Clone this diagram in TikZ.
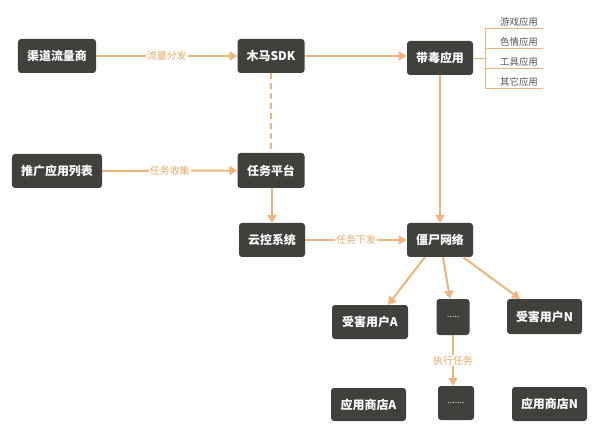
\documentclass[tikz,border=0pt]{standalone}
\usepackage{fontspec}
\setmainfont{Noto Sans CJK SC}
\usetikzlibrary{arrows.meta}
\definecolor{boxc}{HTML}{3E413C}
\definecolor{linec}{HTML}{F0B37A}
\definecolor{lblc}{HTML}{EDA864}
\definecolor{txtg}{HTML}{555555}
\tikzset{
  box/.style={draw=none, fill=boxc, rounded corners=3bp, text=white, font=\fontsize{12}{13}\selectfont\bfseries, inner sep=0pt, anchor=center},
  dots/.style={box, font=\fontsize{9}{10}\selectfont, text=white!85!boxc},
  conn/.style={draw=linec, line width=2bp, -{Triangle[length=8bp,width=9bp]}},
  dconn/.style={draw=linec, line width=2bp, dash pattern=on 6bp off 4bp},
  lbl/.style={fill=white, text=lblc, font=\fontsize{10}{11}\selectfont, inner sep=1pt},
  thin/.style={draw=linec, line width=1bp},
  cat/.style={text=txtg, font=\fontsize{9.5}{10}\selectfont, inner sep=0pt, anchor=south}
}
\begin{document}
\begin{tikzpicture}[x=1bp,y=-1bp]
\useasboundingbox[fill=white] (0,0) rectangle (599,441);
% boxes
\node[box, minimum width=78bp, minimum height=34bp] (qd) at (57,56) {渠道流量商};
\node[box, minimum width=67bp, minimum height=34bp] (sdk) at (271,56) {木马SDK};
\node[box, minimum width=66bp, minimum height=34bp] (dd) at (440,58) {带毒应用};
\node[box, minimum width=90bp, minimum height=34bp] (tg) at (57,171) {推广应用列表};
\node[box, minimum width=67bp, minimum height=35bp] (rw) at (271,170.5) {任务平台};
\node[box, minimum width=66bp, minimum height=34bp] (yk) at (272,240) {云控系统};
\node[box, minimum width=66bp, minimum height=34bp] (js) at (440,240) {僵尸网络};
\node[box, minimum width=76bp, minimum height=34bp] (ua) at (370,322) {受害用户A};
\node[dots, minimum width=33bp, minimum height=36bp] (ud) at (453,317) {.....};
\node[box, minimum width=75bp, minimum height=35bp] (un) at (544.5,316.5) {受害用户N};
\node[box, minimum width=75bp, minimum height=33bp] (sa) at (368.5,404.5) {应用商店A};
\node[dots, minimum width=36bp, minimum height=34bp] (sd) at (456,403) {.......};
\node[box, minimum width=75bp, minimum height=34bp] (sn) at (549.5,404) {应用商店N};
% category list
\coordinate (bj) at (485.5,58.5);
\coordinate (t1) at (485.5,28.5);
\coordinate (t4) at (485.5,88.5);
\draw[thin] (dd.east |- bj) -- (bj);
\draw[thin] (t1) -- (t4);
\foreach \y/\t in {28.5/游戏应用,48.5/色情应用,68.5/工具应用,88.5/其它应用}{
  \draw[thin] (485,\y) -- (543,\y);
  \node[cat] at (519,\y-2) {\t};
}
% connectors
\draw[conn] (qd) -- node[lbl] {流量分发} (sdk);
\draw[conn] (sdk) -- (dd.west |- sdk);
\draw[dconn] (sdk) -- (rw);
\draw[conn] (tg) -- node[lbl] {任务收集} (rw);
\draw[conn] (rw.south -| yk) -- (yk);
\draw[conn] (yk) -- node[lbl] {任务下发} (js);
\draw[conn] (dd) -- (js);
\draw[conn] (js.south west) ++(18,0) coordinate (j1) -- (388,305);
\draw[conn] ([xshift=3bp]js.south) -- ([xshift=-3bp]ud.north);
\draw[conn] ([xshift=-10bp]js.south east) -- (520,299);
\draw[conn] (ud) -- node[lbl] {执行任务} (ud |- sd.north);
\end{tikzpicture}
\end{document}
